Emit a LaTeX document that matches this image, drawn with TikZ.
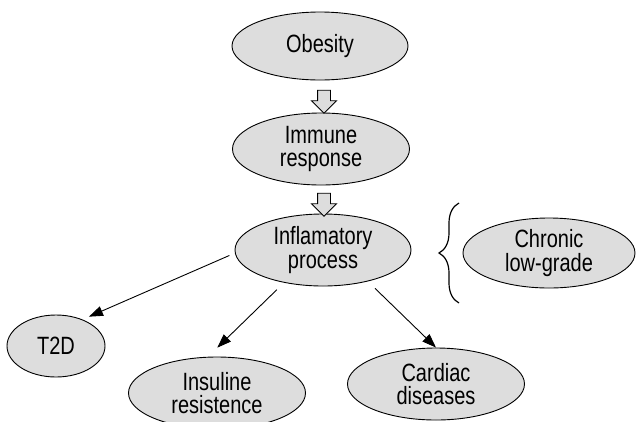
\documentclass[tikz,border=0pt]{standalone}
\usepackage{fontspec}
\setmainfont{Liberation Sans}[FakeStretch=0.8]
\usepackage{tikz}
\usetikzlibrary{shapes.geometric,shapes.arrows,arrows.meta,decorations.pathreplacing}

\definecolor{ovalgray}{RGB}{221,221,221}

\begin{document}
\begin{tikzpicture}[x=1pt, y=-1pt]

\tikzstyle{state_oval} = [ellipse, draw=black, line width=0.9pt, fill=ovalgray, inner sep=0pt, align=center, font=\fontsize{25}{23.5}\selectfont]
\tikzstyle{block_arrow} = [single arrow, draw=black, line width=0.9pt, fill=ovalgray, rotate=-90, inner xsep=0pt, inner ysep=6pt, minimum height=23pt, single arrow head extend=6pt]
\tikzstyle{edge_thin} = [-{Triangle[length=14pt, width=10pt]}, line width=0.9pt]

\useasboundingbox (0,0) rectangle (636,421);
\clip (0,0) rectangle (636,421);

%------------------------------------------------------------
	\node[state_oval, minimum width=176pt, minimum height=68pt] (obs) at (320,46) {Obesity};
	\node[state_oval, minimum width=177pt, minimum height=72pt] (imm) at (321,149) {Immune\\response};
	\node[state_oval, minimum width=176pt, minimum height=72pt] (infl) at (323,250) {Inflamatory\\process};
	\node[state_oval, minimum width=172pt, minimum height=70pt] (chr) at (549,253) {Chronic\\low-grade};

%------------------------------------------------------------
	\node[state_oval, minimum width=98pt, minimum height=62pt] (t2d) at (56,346) {T2D};
	\node[state_oval, minimum width=177pt, minimum height=72pt] (ins) at (217,393) {Insuline\\resistence};
	\node[state_oval, minimum width=177pt, minimum height=72pt] (card) at (436,384) {Cardiac\\diseases};

%------------------------------------------------------------
	\node[block_arrow] (a01) at (324,98.5) {};
	\node[block_arrow] (a12) at (324,201.5) {};

	\coordinate (br_bot) at (459,303);
	\coordinate (br_top) at (459,203);
	\draw[line width=1.2pt, decorate, decoration={brace, amplitude=20pt}] (br_bot) -- (br_top);

%------------------------------------------------------------
	\path[edge_thin, shorten <=6pt, shorten >=7pt] (infl.182) edge (t2d.45);
	\path[edge_thin, shorten <=10pt, shorten >=13pt] (infl.220) edge (ins.104);
	\path[edge_thin, shorten <=10pt] (infl.325) edge (card.north);

\end{tikzpicture}
\end{document}
